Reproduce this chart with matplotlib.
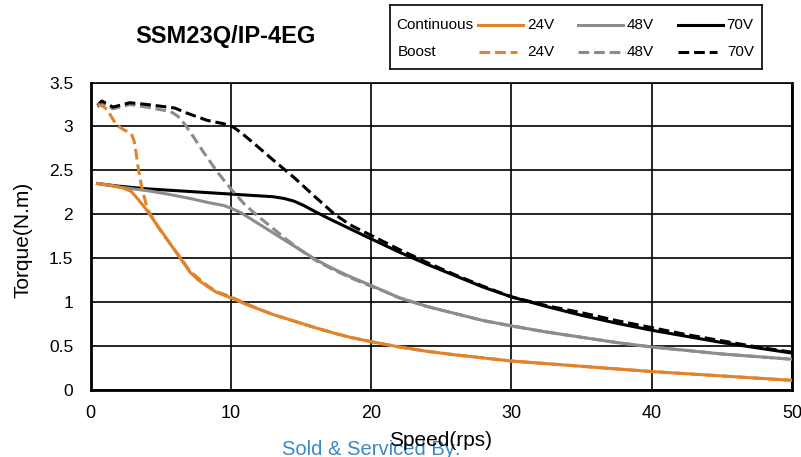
import matplotlib
matplotlib.use("Agg")
import matplotlib.pyplot as plt

plt.rcParams['font.family'] = ['Liberation Sans', 'DejaVu Sans']

# torque curves (speed in rps, torque in N.m)
speed_24_cont = [0.5, 1.5, 2.3, 2.9, 3.4, 3.9, 4.3, 5, 5.7, 6.4, 7.1, 7.7,
                 8.4, 9, 10, 11, 12, 13, 14, 15, 16, 17.3, 18.5, 20, 22, 24,
                 26, 28, 30, 32.5, 35, 37.5, 40, 42.5, 45, 47.5, 50]
torque_24_cont = [2.35, 2.33, 2.30, 2.26, 2.17, 2.07, 1.98, 1.82, 1.66, 1.50,
                  1.34, 1.25, 1.17, 1.11, 1.05, 0.98, 0.92, 0.86, 0.81, 0.76,
                  0.71, 0.65, 0.60, 0.55, 0.49, 0.44, 0.40, 0.365, 0.33, 0.30,
                  0.27, 0.24, 0.21, 0.185, 0.16, 0.135, 0.11]

speed_24_boost = [0.5, 0.8, 1.2, 1.6, 1.9, 2.4, 2.9, 3.1, 3.25, 3.4, 3.65,
                  4.05, 4.5, 5, 5.7, 6.4, 7.1, 7.7, 8.4, 9, 10, 11, 12, 13,
                  14, 15, 16, 17.3, 18.5, 20, 22, 24, 26, 28, 30, 32.5, 35,
                  37.5, 40, 42.5, 45, 47.5, 50]
torque_24_boost = [3.25, 3.24, 3.19, 3.08, 3.01, 2.96, 2.92, 2.84, 2.70, 2.53,
                   2.31, 2.06, 1.94, 1.81, 1.66, 1.51, 1.35, 1.27, 1.18, 1.12,
                   1.06, 0.99, 0.92, 0.86, 0.81, 0.76, 0.71, 0.65, 0.60, 0.55,
                   0.49, 0.44, 0.40, 0.365, 0.33, 0.30, 0.27, 0.24, 0.21,
                   0.185, 0.16, 0.135, 0.11]

speed_48_cont = [0.5, 2, 4, 5.5, 7.1, 8.5, 9.5, 10, 10.7, 11.4, 12.5, 13.7,
                 15, 16.1, 17.3, 18.5, 20, 21, 22, 24, 26, 28, 30, 32.5, 35,
                 37.5, 40, 42.5, 45, 47.5, 50]
torque_48_cont = [2.35, 2.31, 2.27, 2.23, 2.18, 2.13, 2.10, 2.07, 2.02, 1.95,
                  1.84, 1.72, 1.59, 1.48, 1.38, 1.29, 1.19, 1.12, 1.05, 0.95,
                  0.87, 0.79, 0.73, 0.66, 0.60, 0.54, 0.49, 0.45, 0.41, 0.38,
                  0.35]

speed_48_boost = [0.5, 0.8, 1.6, 2.8, 4, 5, 5.7, 6.2, 6.7, 7.3, 8, 9, 10, 11,
                  12, 13, 14, 15, 16.1, 17.3, 18.5, 20, 21, 22, 24, 26, 28,
                  30, 32.5, 35, 37.5, 40, 42.5, 45, 47.5, 50]
torque_48_boost = [3.22, 3.27, 3.20, 3.25, 3.22, 3.19, 3.17, 3.12, 3.03, 2.89,
                   2.72, 2.49, 2.29, 2.11, 1.97, 1.84, 1.71, 1.59, 1.47, 1.37,
                   1.28, 1.18, 1.12, 1.05, 0.95, 0.87, 0.79, 0.73, 0.66, 0.60,
                   0.54, 0.49, 0.45, 0.41, 0.38, 0.35]

speed_70_cont = [0.5, 2, 4, 7, 10, 12, 13, 13.8, 14.5, 15.2, 15.9, 17, 18.3,
                 20, 22, 24, 26, 28, 30, 32.5, 35, 37.5, 40, 42.5, 45, 47.5,
                 50]
torque_70_cont = [2.35, 2.32, 2.29, 2.26, 2.23, 2.21, 2.20, 2.18, 2.15, 2.10,
                  2.04, 1.95, 1.85, 1.72, 1.57, 1.43, 1.30, 1.17, 1.06, 0.95,
                  0.85, 0.76, 0.68, 0.61, 0.54, 0.48, 0.42]

speed_70_boost = [0.5, 0.8, 1.6, 2.8, 4, 6, 6.9, 8.3, 9.5, 10.2, 10.8, 11.7,
                  13, 14.5, 16, 17.4, 18.5, 20, 22, 24, 26, 28, 30, 32.5, 35,
                  37.5, 40, 42.5, 45, 47.5, 50]
torque_70_boost = [3.24, 3.29, 3.22, 3.27, 3.25, 3.21, 3.15, 3.07, 3.03, 2.99,
                   2.92, 2.80, 2.62, 2.42, 2.20, 2.00, 1.88, 1.76, 1.60, 1.45,
                   1.31, 1.18, 1.06, 0.96, 0.88, 0.79, 0.71, 0.63, 0.56, 0.49,
                   0.43]

x_ticks = [0, 10, 20, 30, 40, 50]
y_ticks = [0, 0.5, 1, 1.5, 2, 2.5, 3, 3.5]
y_tick_labels = ['0', '0.5', '1', '1.5', '2', '2.5', '3', '3.5']

ORANGE = '#E2832B'
GRAY = '#8C8C8C'
BLACK = '#000000'
DASH = (0, (3.5, 1.6))
LW = 2.2

W, H = 801, 457
fig = plt.figure(figsize=(W / 100, H / 100), dpi=100)
ax = fig.add_axes([90.5 / W, 1 - 390 / H, 701.5 / W, 307.5 / H])

ax.plot(speed_70_cont, torque_70_cont, color=BLACK, lw=LW, zorder=3)
ax.plot(speed_48_cont, torque_48_cont, color=GRAY, lw=LW, zorder=3)
ax.plot(speed_24_cont, torque_24_cont, color=ORANGE, lw=LW, zorder=3)
ax.plot(speed_48_boost, torque_48_boost, color=GRAY, lw=LW, ls=DASH, zorder=4)
ax.plot(speed_70_boost, torque_70_boost, color=BLACK, lw=LW, ls=DASH, zorder=4)
ax.plot(speed_24_boost, torque_24_boost, color=ORANGE, lw=LW, ls=DASH,
        zorder=4)

ax.set_xlim(0, 50)
ax.set_ylim(0, 3.5)
ax.set_xticks(x_ticks)
ax.set_xticklabels([str(t) for t in x_ticks], fontsize=13)
ax.set_yticks(y_ticks)
ax.set_yticklabels(y_tick_labels, fontsize=12.5)
ax.tick_params(axis='x', length=0, pad=11)
ax.tick_params(axis='y', length=0, pad=12.5)
ax.grid(True, color='black', linewidth=1.2, zorder=1)
ax.set_axisbelow(True)
for side in ['left', 'bottom', 'right']:
  ax.spines[side].set_linewidth(2)
ax.spines['top'].set_linewidth(1.2)

fig.text(23 / W, 1 - 240 / H, 'Torque(N.m)', rotation=90, ha='center',
         va='center', fontsize=15)
fig.text(225 / W, 1 - 42.7 / H, 'SSM23Q/IP-4EG', ha='center',
         va='baseline', fontsize=17, fontweight='bold')
fig.text(282 / W, 1 - 455 / H, 'Sold & Serviced By:', ha='left',
         va='baseline', fontsize=14.5, color='#3A88C6')
fig.text(441 / W, 1 - 441 / H, 'Speed(rps)', ha='center', va='center',
         fontsize=15)

# legend box drawn in its own pixel-space axes
key = fig.add_axes([390 / W, 1 - 69.3 / H, 372 / W, 64.3 / H])
key.set_xlim(390, 762)
key.set_ylim(69.3, 5)
key.set_xticks([])
key.set_yticks([])
for side in key.spines:
  key.spines[side].set_linewidth(1.2)

row1, row2 = 25, 51.7
key.text(396, row1, 'Continuous', va='center', fontsize=11)
key.text(398, row2, 'Boost', va='center', fontsize=11)
key.plot([478, 523], [row1, row1], color=ORANGE, lw=LW)
key.plot([578, 623], [row1, row1], color=GRAY, lw=LW)
key.plot([678, 723], [row1, row1], color=BLACK, lw=LW)
key.plot([479, 517], [row2, row2], color=ORANGE, lw=LW, ls=DASH)
key.plot([578, 625], [row2, row2], color=GRAY, lw=LW, ls=DASH)
key.plot([678, 717], [row2, row2], color=BLACK, lw=LW, ls=DASH)
for x, y, label in [(527, row1, '24V'), (627, row1, '48V'),
                    (726, row1, '70V'), (527, row2, '24V'),
                    (627, row2, '48V'), (727, row2, '70V')]:
  key.text(x, y, label, va='center', fontsize=11)

plt.savefig('out.png', dpi=100)
plt.close()
